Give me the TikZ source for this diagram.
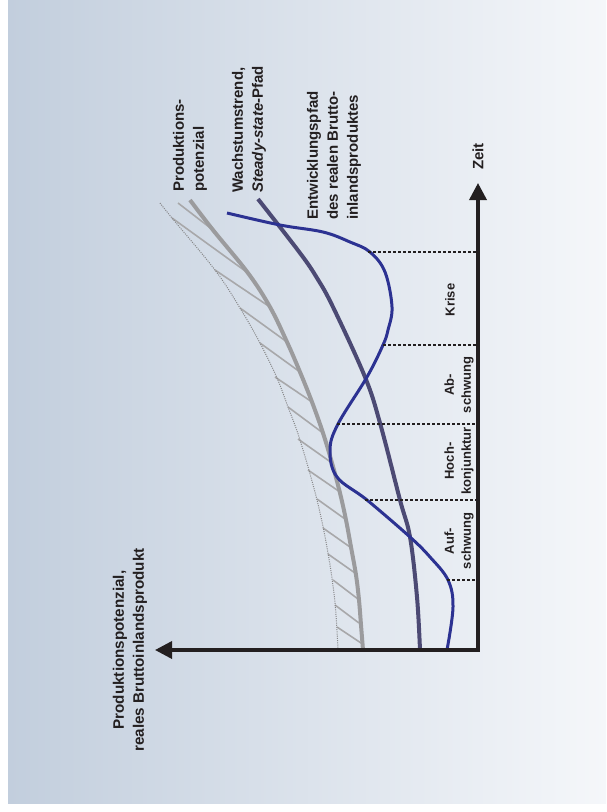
\documentclass[tikz,border=0pt]{standalone}
\usepackage{fontspec}
\setmainfont{Liberation Sans}
\usetikzlibrary{positioning, arrows.meta}
\definecolor{bgleft}{RGB}{194, 206, 221}
\definecolor{bgright}{RGB}{245, 247, 250}
\definecolor{pathblue}{RGB}{44, 50, 146}
\definecolor{trendslate}{RGB}{76, 74, 116}
\definecolor{potgray}{RGB}{155, 155, 157}
\definecolor{hatchgray}{RGB}{168, 168, 170}
\definecolor{axisblack}{RGB}{35, 31, 32}

\begin{document}
\begin{tikzpicture}[
    x=1pt, y=-1pt,
    axis/.style={{Triangle[length=17pt, width=17pt]}-{Triangle[length=17pt, width=17pt]}, line width=3.5pt, axisblack},
    guide/.style={axisblack, line width=2.6pt, dash pattern=on 3.2pt off 1.8pt},
    potential/.style={potgray, line width=4pt},
    trend/.style={trendslate, line width=4pt},
    bippath/.style={pathblue, line width=3pt},
    bound/.style={hatchgray!80!black, line width=1pt, dash pattern=on 1pt off 1.2pt},
    hatch/.style={hatchgray, line width=1.6pt},
    tag/.style={rotate=90, anchor=west, align=left, inner sep=0pt, font=\bfseries\fontsize{15}{20}\selectfont, text=axisblack},
    phase/.style={rotate=90, align=center, inner sep=0pt, font=\bfseries\fontsize{13}{17}\selectfont, text=axisblack}
]
    \fill[white] (0,0) rectangle (606,812);
    \useasboundingbox (0,0) rectangle (606,812);
    \shade[left color=bgleft, right color=bgright] (8,0) rectangle (606,803);

    \coordinate (O) at (478,650);
    \coordinate (timetip) at (478,183);
    \coordinate (gdptip) at (155,650);

    \foreach \a/\b/\c/\d in {178/203/213/230, 172/218/248/273, 215/270/270/307, 240/308/287/342,
        260/343/300/372, 275/377/312/402, 288/407/323/433, 298/439/332/463, 308/470/340/492,
        317/499/345/519, 323/528/350/547, 328/554/355/573, 333/580/358/599, 335/605/359/623,
        337/627/361/643}
        \draw[hatch] (\a,\b) -- (\c,\d);

    \draw[bound] plot[smooth, tension=0.6] coordinates {(160,203) (172,218) (215,270) (240,308)
        (260,343) (277,378) (288,407) (300,440) (317,500) (328,553) (335,603) (338,650)};
    \draw[potential] plot[smooth, tension=0.6] coordinates {(190,200) (213,230) (248,273) (270,307)
        (287,342) (300,372) (312,402) (323,433) (332,463) (340,493) (346,520) (351,547)
        (356,575) (359,600) (361,625) (363,650)};
    \draw[trend] plot[smooth, tension=0.6] coordinates {(258,199) (300,253) (317,278) (333,307)
        (365,377) (380,423) (400,500) (410,537) (417,597) (420,650)};
    \draw[bippath] plot[smooth, tension=0.6] coordinates {(227,213) (280,225) (323,232) (350,242)
        (370,252) (385,272) (392,307) (388,330) (383,345) (367,377) (338,424) (330,450)
        (337,477) (367,500) (410,537) (430,557) (448,580) (453,607) (447,650)};

    \coordinate (krisetop) at (368,252);
    \coordinate (abtop) at (383,345);
    \coordinate (hochtop) at (337,424);
    \coordinate (auftop) at (365,500);
    \coordinate (aufbottom) at (447,580);
    \foreach \c in {krisetop, abtop, hochtop, auftop, aufbottom}
        \draw[guide] (\c) -- (\c -| O);

    \draw[axis] (timetip) -- (O) -- (gdptip);

    \node[tag] (potlabel) at (190,192) {Produktions-\\potenzial};
    \node[tag] (trendlabel) at (249,193) {Wachstumstrend,\\\textit{Steady-state}-Pfad};
    \node[tag] (pathlabel) at (334,220) {Entwicklungspfad\\des realen Brutto-\\inlandsproduktes};
    \node[tag] (timelabel) at (478,170) {Zeit};
    \node[phase, font=\bfseries\fontsize{15.2}{20}\selectfont] (gdplabel) at (130,650) {Produktionspotenzial,\\reales Bruttoinlandsprodukt};

    \node[phase] (krise) at (450,300) {Krise};
    \node[phase] (abschwung) at (459,385) {Ab-\\schwung};
    \node[phase] (hochkonj) at (459,461) {Hoch-\\konjunktur};
    \node[phase] (aufschwung) at (459,541) {Auf-\\schwung};
\end{tikzpicture}
\end{document}
